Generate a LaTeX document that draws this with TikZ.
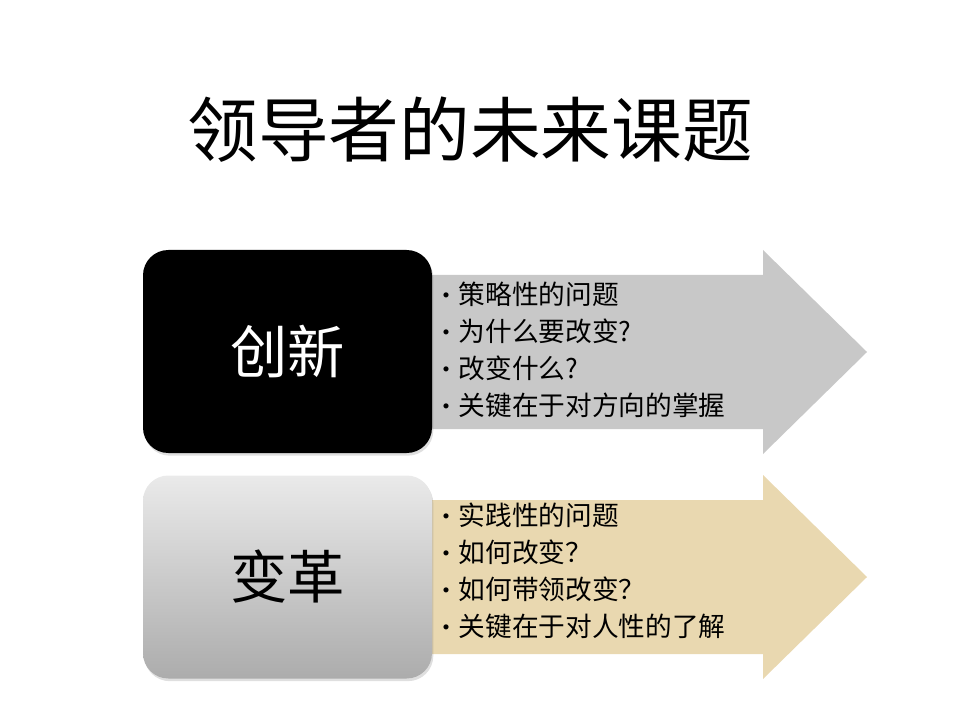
\documentclass[tikz,border=0pt]{standalone}
\usepackage{fontspec}
\setmainfont{Noto Sans CJK SC}
\usetikzlibrary{shadows}
\definecolor{arrowgray}{RGB}{200,200,200}
\definecolor{arrowtan}{RGB}{233,216,176}
\definecolor{boxlight}{RGB}{234,234,234}
\definecolor{boxdark}{RGB}{172,172,172}

\tikzset{
  bigbox/.style={rounded corners=19pt, minimum width=216.75pt, minimum height=152.25pt,
    font=\fontsize{43}{48}\selectfont, drop shadow={opacity=0.25, shadow xshift=1pt, shadow yshift=-2pt}},
  itemlist/.style={anchor=west, align=left, font=\fontsize{20}{27.8}\selectfont, inner sep=0pt}
}
\newcommand{\bul}{\makebox[10pt][c]{\fontsize{18}{18}\selectfont\textbullet}\hspace{4pt}}

\begin{document}
\begin{tikzpicture}[x=0.75pt, y=-0.75pt]
  \useasboundingbox (0,0) rectangle (960,720);
  \node (title) at (470,130) {\fontsize{53}{60}\selectfont 领导者的未来课题};
  % arrows behind the boxes
  \foreach \y/\c in {352/arrowgray, 577/arrowtan} {
    \fill[\c] (420,\y-77) -- (763,\y-77) -- (763,\y-102) -- (867,\y)
      -- (763,\y+102) -- (763,\y+77) -- (420,\y+77) -- cycle;
  }
  \node[bigbox, fill=black, text=white] (innov) at (287.5,351.5) {创新};
  \node[bigbox, top color=boxlight, bottom color=boxdark] (change) at (287.5,577) {变革};
  \node[itemlist] (innovlist) at (440,349.5) {\bul 策略性的问题\\ \bul 为什么要改变?\\ \bul 改变什么?\\ \bul 关键在于对方向的掌握};
  \node[itemlist] (changelist) at (440,571) {\bul 实践性的问题\\ \bul 如何改变？\\ \bul 如何带领改变？\\ \bul 关键在于对人性的了解};
\end{tikzpicture}
\end{document}
